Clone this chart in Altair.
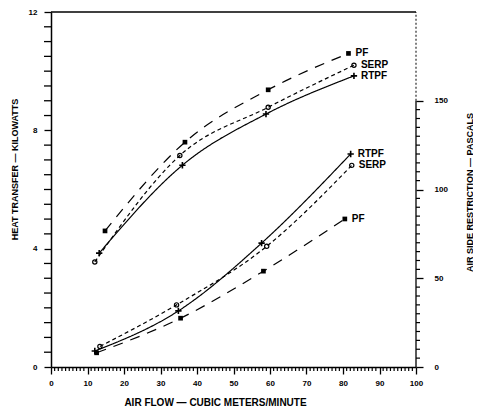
import altair as alt
import pandas as pd

series = ["PF", "SERP", "RTPF"]

# Heat transfer (kW) vs air flow (m3/min)
ht_flow_pf = [14.8, 36.7, 59.5, 81.5]
ht_pf = [4.6, 7.6, 9.37, 10.6]
ht_flow_serp = [12.0, 35.3, 59.5, 83.0]
ht_serp = [3.55, 7.15, 8.78, 10.2]
ht_flow_rtpf = [13.2, 36.0, 58.9, 83.0]
ht_rtpf = [3.85, 6.82, 8.55, 9.84]

# Air side restriction (Pa) vs air flow
p_flow_pf = [12.5, 35.5, 58.2, 80.5]
p_pf = [8.0, 27.5, 54.0, 83.4]
p_flow_serp = [13.4, 34.4, 59.1, 82.4]
p_serp = [11.6, 35.0, 68.0, 113.6]
p_flow_rtpf = [12.0, 34.9, 57.7, 82.1]
p_rtpf = [9.0, 31.6, 69.8, 120.0]

# axis tick values
x_labels = list(range(0, 101, 10))
x_minor = [v for v in range(0, 101) if v % 10]
left_labels = [0, 4, 8, 12]
left_minor = [i * 0.5 for i in range(25) if (i * 0.5) % 4]
right_labels = [0, 50, 100, 150]
right_minor = [v for v in range(0, 151, 5) if v % 50]


def frame(flows, vals):
    rows = []
    for s, fl, vl in zip(series, flows, vals):
        for i, (f, v) in enumerate(zip(fl, vl)):
            rows.append({"flow": f, "val": v, "series": s, "idx": i, "last": i == len(fl) - 1})
    return pd.DataFrame(rows)


df_ht = frame([ht_flow_pf, ht_flow_serp, ht_flow_rtpf], [ht_pf, ht_serp, ht_rtpf])
df_p = frame([p_flow_pf, p_flow_serp, p_flow_rtpf], [p_pf, p_serp, p_rtpf])

FONT = "Liberation Sans"
W, H = 365, 355

x_axis = alt.Axis(
    values=x_labels, format="d", labelOverlap=False, labelFlush=False,
    tickSize=7, tickWidth=1.3, tickColor="black", domainColor="black", domainWidth=1.5,
    labelFont=FONT, labelFontSize=8, labelFontWeight="bold", labelColor="black",
    labelPadding=5, grid=False,
    title="AIR FLOW — CUBIC METERS/MINUTE", titleFont=FONT, titleFontSize=10,
    titleFontWeight="bold", titleColor="black", titleX=164, titleY=35,
    titleBaseline="middle", titleAlign="center",
)
x_scale = alt.Scale(domain=[0, 100], nice=False, zero=False)
x_enc = alt.X("flow:Q", scale=x_scale, axis=x_axis)

left_axis = alt.Axis(
    values=left_labels, orient="left", format="d", labelOverlap=False, labelFlush=False,
    tickSize=7, tickWidth=1.3, tickColor="black", domainColor="black", domainWidth=1.5,
    labelFont=FONT, labelFontSize=8, labelFontWeight="bold", labelColor="black",
    labelPadding=7, grid=False,
    title="HEAT TRANSFER — KILOWATTS", titleFont=FONT, titleFontSize=9,
    titleFontWeight="bold", titleColor="black", titleX=-37, titleY=157,
    titleBaseline="middle", titleAlign="center", titleAngle=270,
)
right_axis = alt.Axis(
    values=right_labels, orient="right", domain=False, format="d",
    labelOverlap=False, labelFlush=False,
    tickSize=7, tickWidth=1.3, tickColor="black",
    labelFont=FONT, labelFontSize=8, labelFontWeight="bold", labelColor="black",
    labelPadding=11, grid=False,
    title="AIR SIDE RESTRICTION — PASCALS", titleFont=FONT, titleFontSize=9,
    titleFontWeight="bold", titleColor="black", titleX=53, titleY=180,
    titleBaseline="middle", titleAlign="center", titleAngle=270,
)

dash_scale = alt.Scale(domain=series, range=[[10, 8], [4, 3], [1, 0]])
PLUS = "M-1,0L1,0M0,-1L0,1"


def group(df, y_axis, domain, extra_fn):
    y_scale = alt.Scale(domain=domain, nice=False)
    y_enc = alt.Y("val:Q", scale=y_scale, axis=y_axis)
    base = alt.Chart(df).encode(x=x_enc, y=y_enc)
    lines = base.mark_line(interpolate="monotone", color="black", strokeWidth=1.2).encode(
        strokeDash=alt.StrokeDash("series:N", scale=dash_scale, legend=None)
    )
    sq = base.transform_filter("datum.series == 'PF'").mark_square(size=22, color="black", opacity=1)
    ci = base.transform_filter("datum.series == 'SERP'").mark_point(
        shape="circle", size=18, filled=False, color="black", strokeWidth=1.2, opacity=1)
    pl = base.transform_filter("datum.series == 'RTPF'").mark_point(
        shape=PLUS, size=40, filled=False, color="black", strokeWidth=1.6, opacity=1)
    lab = base.transform_filter("datum.last").mark_text(
        align="left", baseline="middle", dx=7, font=FONT, fontSize=10, fontWeight="bold", color="black"
    ).encode(text="series:N")
    return alt.layer(lines, sq, ci, pl, lab, *extra_fn(y_scale, y_axis))


def ht_extra(y_scale, y_axis):
    top_rule = alt.Chart(pd.DataFrame({"a": [0]})).mark_rule(color="black", strokeWidth=1.5).encode(
        y=alt.value(0), x=alt.value(0), x2=alt.value(W))
    xm = alt.Chart(pd.DataFrame({"flow": x_minor})).mark_rule(color="black", strokeWidth=1.2).encode(
        x=x_enc, y=alt.value(H), y2=alt.value(H + 4))
    lm = alt.Chart(pd.DataFrame({"val": left_minor})).mark_rule(color="black", strokeWidth=1.3).encode(
        y=alt.Y("val:Q", scale=y_scale, axis=y_axis), x=alt.value(-7), x2=alt.value(0))
    return [top_rule, xm, lm]


def p_extra(y_scale, y_axis):
    border_df = pd.DataFrame({"val": [0, 150], "val2": [150, 200], "kind": ["solid", "dotted"]})
    r_y = alt.Y("val:Q", scale=y_scale, axis=y_axis)
    solid = alt.Chart(border_df).transform_filter("datum.kind == 'solid'").mark_rule(
        color="black", strokeWidth=1.3).encode(x=alt.value(W), y=r_y, y2="val2:Q")
    dot = alt.Chart(border_df).transform_filter("datum.kind == 'dotted'").mark_rule(
        color="black", strokeWidth=1, strokeDash=[2, 2]).encode(x=alt.value(W), y=r_y, y2="val2:Q")
    rm = alt.Chart(pd.DataFrame({"val": right_minor})).mark_rule(color="black", strokeWidth=1.2).encode(
        y=r_y, x=alt.value(W), x2=alt.value(W + 4))
    return [solid, dot, rm]


ht_group = group(df_ht, left_axis, [0, 12], ht_extra)
p_group = group(df_p, right_axis, [0, 200], p_extra)

chart = alt.layer(ht_group, p_group).resolve_scale(y="independent").properties(
    width=W, height=H,
    autosize=alt.AutoSizeParams(type="none"),
    padding={"left": 43, "top": 4, "right": 57, "bottom": 42},
    background="white",
).configure_view(stroke=None)

chart.save("out.html", embed_options={"renderer": "svg", "actions": False})
